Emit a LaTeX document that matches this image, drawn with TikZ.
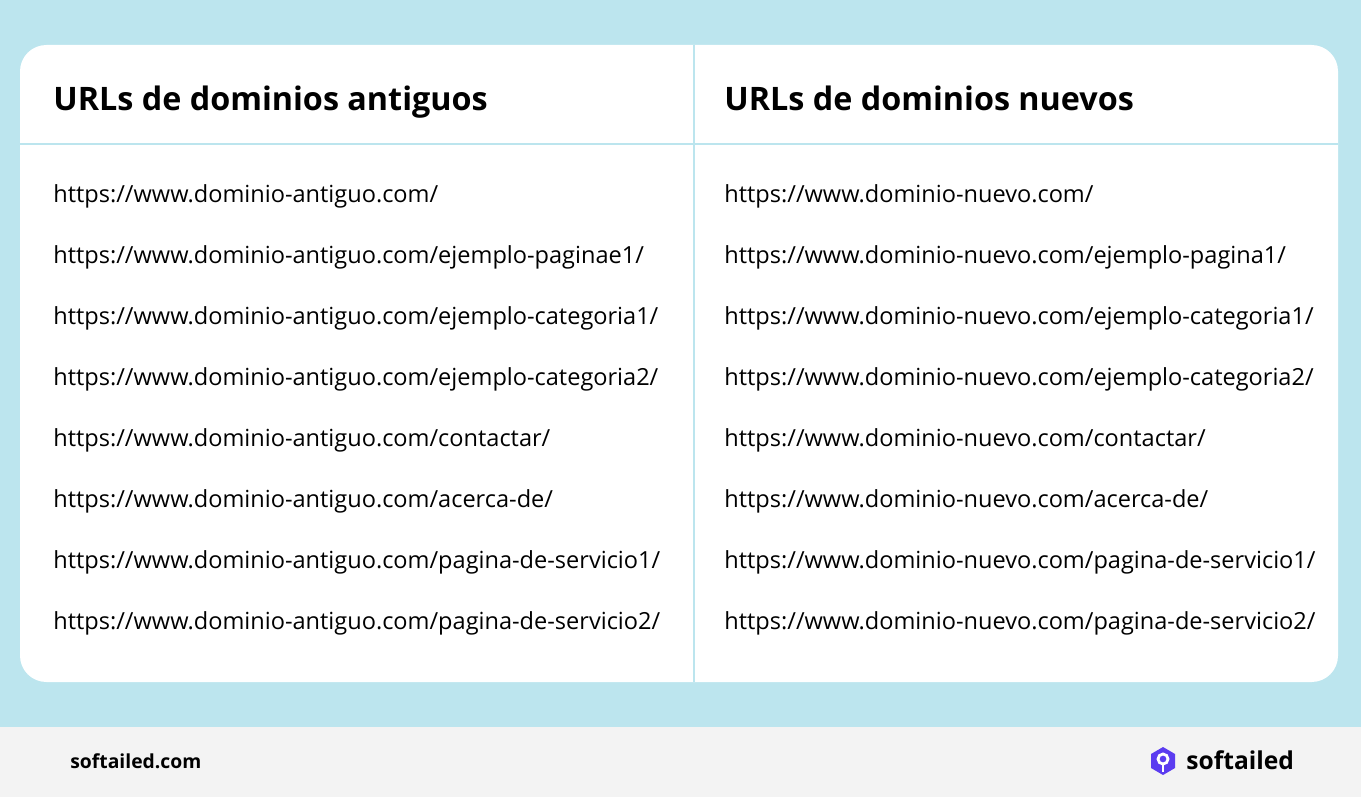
\documentclass[tikz,border=0pt]{standalone}
\usepackage{fontspec}
\setmainfont{Open Sans}
\definecolor{skyback}{HTML}{BCE5EE}
\definecolor{footgray}{HTML}{F3F3F3}
\definecolor{rulecol}{HTML}{BCE5EE}
\definecolor{logoblue}{HTML}{5B3CF0}
\tikzset{
  header/.style={anchor=base west, inner sep=0pt, font=\fontsize{18.4}{21}\selectfont\bfseries},
  urltext/.style={anchor=base west, inner sep=0pt, font=\fontsize{13.4}{16}\selectfont},
}
\begin{document}
\begin{tikzpicture}[x=0.02cm, y=-0.02cm]
\useasboundingbox (0,0) rectangle (1361,797);
\fill [skyback] (0,0) rectangle (1361,727);
\fill [footgray] (0,727) rectangle (1361,797);
\fill [white, rounded corners=15] (20,45) rectangle (1338,682);
\draw [rulecol, line width=1pt] (20,144) -- (1338,144);
\draw [rulecol, line width=1pt] (694,45) -- (694,682);
\node [header] (hold) at (53,111) {URLs de dominios antiguos};
\node [header] (hnew) at (724,111) {URLs de dominios nuevos};
% rows
\foreach \tail [count=\i] in {/,/ejemplo-paginae1/,/ejemplo-categoria1/,/ejemplo-categoria2/,/contactar/,/acerca-de/,/pagina-de-servicio1/,/pagina-de-servicio2/}
  \node [urltext] (old\i) at (53,{202+61*(\i-1)}) {https://www.dominio-antiguo.com\tail};
\foreach \tail [count=\i] in {/,/ejemplo-pagina1/,/ejemplo-categoria1/,/ejemplo-categoria2/,/contactar/,/acerca-de/,/pagina-de-servicio1/,/pagina-de-servicio2/}
  \node [urltext] (new\i) at (724,{202+61*(\i-1)}) {https://www.dominio-nuevo.com\tail};
% footer
\node [anchor=west, inner sep=0pt, font=\fontsize{11}{13}\selectfont\bfseries] (site) at (70,761) {softailed.com};
\fill [logoblue] (1163,747) -- (1175,754) -- (1175,768) -- (1163,775) -- (1151,768) -- (1151,754) -- cycle;
\draw [white, line width=1.6pt] (1163,759) circle (5);
\draw [white, line width=1.6pt] (1163,764) -- (1163,772);
\node [anchor=west, inner sep=0pt, font=\fontsize{14}{16}\selectfont\bfseries] (brand) at (1186,760) {softailed};
\end{tikzpicture}
\end{document}
